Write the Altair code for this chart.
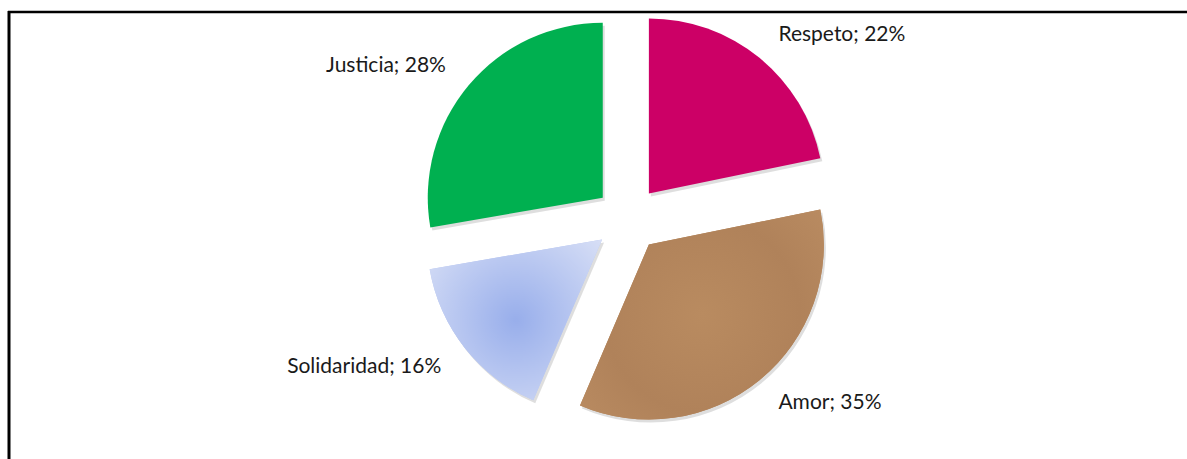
import altair as alt
import pandas as pd

# data
categories = ["Respeto", "Amor", "Solidaridad", "Justicia"]
values = [22, 35, 16, 28]
colors = ["#CC0066", "#B4875C", "#B9C7F0", "#00B050"]

df = pd.DataFrame({"cat": categories, "value": values, "order": list(range(len(categories)))})

# layout parameters (pixels)
W, H = 1187, 459
CX, CY = 628, 219
R = 175
EXPLODE = 33
RL = 238

base = (
    alt.Chart(df)
    .transform_joinaggregate(total="sum(value)")
    .transform_window(cum="sum(value)", sort=[alt.SortField("order")], frame=[None, 0])
    .transform_calculate(
        a0="2*PI*(datum.cum - datum.value)/datum.total",
        a1="2*PI*datum.cum/datum.total",
    )
    .transform_calculate(mid="(datum.a0 + datum.a1)/2")
    .transform_calculate(
        px=f"{CX} + {EXPLODE}*sin(datum.mid)",
        py=f"{CY} - {EXPLODE}*cos(datum.mid)",
        lx=f"{CX} + {RL}*sin(datum.mid)",
        ly=f"{CY} - {RL}*cos(datum.mid)",
        label="datum.cat + '; ' + datum.value + '%'",
    )
)

enc = dict(
    x=alt.X("px:Q", scale=None, axis=None),
    y=alt.Y("py:Q", scale=None, axis=None),
    theta=alt.Theta("a0:Q", scale=None),
    theta2="a1:Q",
)

shadow = base.mark_arc(radius=R, fill="#000000", opacity=0.13, xOffset=2, yOffset=3).encode(**enc)

arcs = base.mark_arc(radius=R, stroke=None).encode(
    color=alt.Color("cat:N", scale=alt.Scale(domain=categories, range=colors), legend=None),
    **enc,
)

soli = base.transform_filter(alt.datum.cat == "Solidaridad").mark_arc(
    radius=R,
    fill={
        "gradient": "radial",
        "x1": 0.5, "y1": 0.5, "r1": 0,
        "x2": 0.5, "y2": 0.5, "r2": 0.75,
        "stops": [
            {"offset": 0, "color": "#98AEEB"},
            {"offset": 1, "color": "#DEE4F7"},
        ],
    },
).encode(**enc)

amor = base.transform_filter(alt.datum.cat == "Amor").mark_arc(
    radius=R,
    fill={
        "gradient": "radial",
        "x1": 0.5, "y1": 0.5, "r1": 0,
        "x2": 0.5, "y2": 0.5, "r2": 0.8,
        "stops": [
            {"offset": 0, "color": "#B98B60"},
            {"offset": 0.5, "color": "#B0825A"},
            {"offset": 1, "color": "#BE9065"},
        ],
    },
).encode(**enc)

txt_enc = dict(
    x=alt.X("lx:Q", scale=None, axis=None),
    y=alt.Y("ly:Q", scale=None, axis=None),
    text="label:N",
)
font = dict(font="Lato", fontSize=21, color="#1a1a1a", baseline="middle")

labels_right = base.transform_filter("sin(datum.mid) > 0").mark_text(align="left", **font).encode(**txt_enc)
labels_left = base.transform_filter("sin(datum.mid) <= 0").mark_text(align="right", **font).encode(**txt_enc)

frame_src = alt.Chart(alt.Data(values=[{"k": 1}]))
left_line = frame_src.mark_rule(color="#000000", strokeWidth=3).encode(
    x=alt.value(9), y=alt.value(11), y2=alt.value(H)
)
top_line = frame_src.mark_rule(color="#000000", strokeWidth=2.5).encode(
    x=alt.value(8), x2=alt.value(W), y=alt.value(12)
)

chart = (
    alt.layer(shadow, arcs, amor, soli, labels_right, labels_left, left_line, top_line)
    .properties(
        width=W,
        height=H,
        padding=0,
        autosize=alt.AutoSizeParams(type="fit", contains="padding"),
        background="#FFFFFF",
    )
    .configure_view(stroke=None)
)

chart.save("out.html", embed_options={"renderer": "svg", "actions": False})
